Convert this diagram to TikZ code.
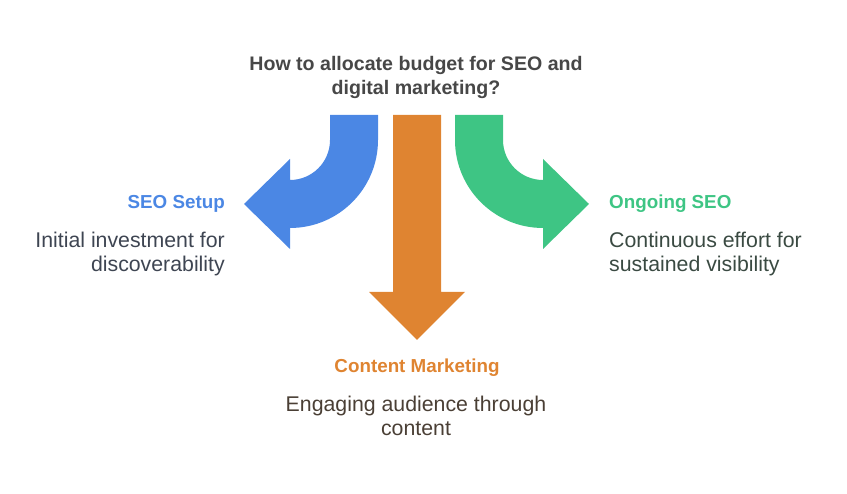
\documentclass[tikz,border=0pt]{standalone}
\usepackage{fontspec}
\setmainfont{Liberation Sans}
\definecolor{cblue}{HTML}{4B87E4}
\definecolor{cgreen}{HTML}{3EC584}
\definecolor{corange}{HTML}{DF8431}
\definecolor{ctitle}{HTML}{474747}
\definecolor{dblue}{HTML}{3E4552}
\definecolor{dgreen}{HTML}{3A4A42}
\definecolor{dorange}{HTML}{4A3F35}
\begin{document}
\begin{tikzpicture}[x=1pt,y=1pt,
  heading/.style={font=\bfseries\fontsize{18.8}{24}\selectfont, inner sep=0pt},
  desc/.style={font=\fontsize{21.3}{24}\selectfont, inner sep=0pt},
  titletext/.style={font=\bfseries\fontsize{19.6}{24}\selectfont, inner sep=0pt, text=ctitle, align=center}]
\useasboundingbox (0,0) rectangle (847,494);
% blue arrow (left)
\fill[cblue] (330,379) -- (378,379) -- (378,354) arc[start angle=0, end angle=-90, radius=88]
  -- (290,245) -- (244,290) -- (290,335) -- (290,314)
  arc[start angle=-90, end angle=0, radius=40] -- cycle;
% green arrow (right)
\fill[cgreen] (503,379) -- (455,379) -- (455,354) arc[start angle=180, end angle=270, radius=88]
  -- (543,245) -- (589,290) -- (543,335) -- (543,314)
  arc[start angle=270, end angle=180, radius=40] -- cycle;
% orange arrow (down)
\fill[corange] (393,379) -- (441,379) -- (441,202) -- (465,202) -- (417,154) -- (369,202) -- (393,202) -- cycle;
% texts (base anchor of a two-line node = baseline of its last line)
\node[titletext, anchor=base] (title) at (416,399) {How to allocate budget for SEO and\\digital marketing?};
\node[heading, text=cblue, anchor=base east] (h1) at (225,285) {SEO Setup};
\node[desc, text=dblue, anchor=base east, align=right] (d1) at (225,222) {Initial investment for\\discoverability};
\node[heading, text=cgreen, anchor=base west] (h2) at (609,285) {Ongoing SEO};
\node[desc, text=dgreen, anchor=base west, align=left] (d2) at (609,222) {Continuous effort for\\sustained visibility};
\node[heading, text=corange, anchor=base] (h3) at (417,121) {Content Marketing};
\node[desc, text=dorange, anchor=base, align=center] (d3) at (416,58) {Engaging audience through\\content};
\end{tikzpicture}
\end{document}
